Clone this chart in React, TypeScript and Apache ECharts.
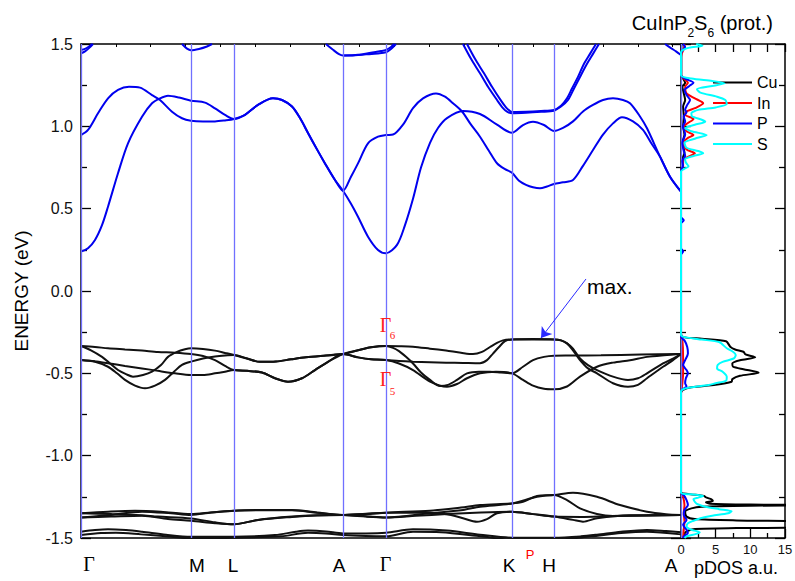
import { useEffect, useRef } from 'react';
import * as echarts from 'echarts';

// ---------- k-path (arbitrary path-length units) ----------
const kPoints = [0, 110, 153, 262, 305, 431, 473, 600];
const kLabels = ['Γ', 'M', 'L', 'A', 'Γ', 'K', 'H', 'A'];
const energyRange = [-1.5, 1.5];
const energyStep = 0.5;
const dosRange = [0, 15];
const dosStep = 5;
const dosNames = ['Cu', 'In', 'P', 'S'];

// ---------- conduction bands [k, E] ----------
const cbLA = [[164, 1.07], [177, 1.13], [192, 1.17], [201, 1.16], [211, 1.12], [219, 1.05], [227, 0.96], [236, 0.86], [244, 0.775], [254, 0.674], [262, 0.609]];
const cbA = [
  [0, 0.239], [7, 0.26], [14, 0.31], [21, 0.4], [27, 0.512], [37, 0.715], [47, 0.897], [61, 1.058], [71, 1.14], [79, 1.17], [87, 1.186], [98, 1.175], [110, 1.156],
  [124, 1.144], [134, 1.109], [144, 1.069], [153, 1.045], ...cbLA,
  [270, 0.53], [277, 0.451], [287, 0.33], [297, 0.249], [305, 0.229],
  [316, 0.28], [324, 0.4], [332, 0.56], [340, 0.75], [349, 0.9], [357, 0.99], [366, 1.05], [382, 1.093], [399, 1.075], [416, 1.01], [431, 0.961],
  [442, 1.008], [452, 1.028], [463, 1.008], [473, 0.972],
  [482, 0.99], [492, 1.03], [502, 1.09], [512, 1.13], [522, 1.16], [532, 1.17], [542, 1.16], [549, 1.14], [559, 1.06], [566, 0.988], [579, 0.816], [589, 0.694], [600, 0.603],
];
const cbB = [
  [0, 0.947], [7, 0.978], [17, 1.079], [27, 1.17], [37, 1.221], [48, 1.24], [59, 1.235], [71, 1.19], [79, 1.16], [91, 1.089], [101, 1.049], [110, 1.034],
  [122, 1.03], [134, 1.03], [144, 1.036], [153, 1.045], ...cbLA,
  [270, 0.694], [277, 0.775], [287, 0.897], [297, 0.937], [305, 0.947],
  [312, 0.95], [322, 1.01], [332, 1.11], [342, 1.17], [355, 1.2], [364, 1.18], [372, 1.14], [381, 1.09], [390, 1.01], [399, 0.937], [408, 0.85], [416, 0.776], [424, 0.74], [431, 0.718],
  [438, 0.67], [445, 0.645], [452, 0.63], [459, 0.624], [466, 0.635], [473, 0.65],
  [482, 0.66], [492, 0.674], [502, 0.76], [512, 0.856], [522, 0.95], [532, 1.018], [541, 1.055], [552, 1.03], [562, 0.978], [570, 0.9], [579, 0.816], [589, 0.694], [600, 0.603],
];
const ub1 = [[0, 1.443], [4, 1.455], [8, 1.475], [12, 1.5]];
const ub2 = [[0, 1.463], [4, 1.47], [8, 1.485], [11, 1.5]];
const ub3 = [[101, 1.5], [106, 1.472], [110, 1.462], [118, 1.47], [126, 1.485], [131, 1.5]];
const ub4 = [[245, 1.5], [252, 1.465], [258, 1.438], [262, 1.43], [270, 1.43], [285, 1.437], [297, 1.443], [305, 1.45], [310, 1.47], [315, 1.5]];
const ub5 = [[262, 1.43], [277, 1.434], [290, 1.447], [300, 1.457], [305, 1.464], [310, 1.482], [313, 1.5]];
const ub6 = [[382, 1.5], [390, 1.41], [399, 1.322], [407, 1.24], [416, 1.16], [422, 1.11], [426, 1.089], [431, 1.079], [445, 1.082], [460, 1.088], [473, 1.095], [480, 1.12], [487, 1.16], [493, 1.23], [499, 1.3], [506, 1.38], [512, 1.44], [518, 1.5]];
const ub7 = [[386, 1.5], [394, 1.41], [403, 1.322], [411, 1.24], [419, 1.165], [425, 1.115], [429, 1.093], [431, 1.087], [445, 1.088], [460, 1.093], [473, 1.1], [480, 1.125], [486, 1.17], [491, 1.23], [497, 1.3], [503, 1.38], [509, 1.44], [515, 1.5]];
const ub8 = [[584, 1.5], [590, 1.475], [595, 1.455], [600, 1.433]];

// ---------- valence bands [k, E] ----------
const laUpper = [[166, -0.41], [179, -0.43], [195, -0.428], [210, -0.415], [225, -0.403], [245, -0.392], [262, -0.383]];
const laLower = [[166, -0.485], [181, -0.495], [194, -0.53], [207, -0.551], [221, -0.53], [234, -0.48], [247, -0.43], [262, -0.383]];
const agUpper = [[277, -0.36], [290, -0.342], [305, -0.334]];
const agLower = [[277, -0.403], [290, -0.415], [305, -0.419]];
const vb1 = [
  [0, -0.334], [14, -0.34], [27, -0.348], [44, -0.355], [61, -0.362], [77, -0.37], [94, -0.375], [110, -0.383],
  [122, -0.395], [134, -0.42], [144, -0.455], [153, -0.48], ...laLower, ...agLower,
  [318, -0.44], [332, -0.48], [349, -0.55], [366, -0.581], [376, -0.565], [386, -0.53], [399, -0.5], [415, -0.49], [431, -0.5],
  [442, -0.54], [452, -0.575], [463, -0.594], [473, -0.597],
  [486, -0.58], [499, -0.52], [516, -0.46], [532, -0.435], [549, -0.42], [566, -0.4], [583, -0.39], [600, -0.383],
];
const vb2 = [
  [0, -0.334], [10, -0.36], [21, -0.4], [29, -0.44], [37, -0.48], [45, -0.505], [52, -0.52], [62, -0.51], [71, -0.49], [80, -0.45], [87, -0.4], [96, -0.37], [104, -0.354], [110, -0.348],
  [122, -0.352], [134, -0.362], [144, -0.376], [153, -0.389], ...laUpper, ...agUpper,
  [318, -0.335], [332, -0.338], [349, -0.35], [365, -0.362], [380, -0.375], [392, -0.383], [401, -0.37], [409, -0.34], [416, -0.315], [422, -0.3], [431, -0.294],
  [452, -0.292], [473, -0.294],
  [480, -0.3], [486, -0.318], [492, -0.35], [499, -0.41], [507, -0.45], [516, -0.48], [532, -0.52], [547, -0.54], [557, -0.53], [566, -0.5], [582, -0.44], [592, -0.41], [600, -0.383],
];
const vb3 = [
  [0, -0.419], [14, -0.43], [27, -0.46], [36, -0.5], [44, -0.54], [54, -0.575], [64, -0.591], [74, -0.575], [84, -0.54], [93, -0.49], [101, -0.449], [110, -0.429],
  [122, -0.41], [134, -0.398], [144, -0.392], [153, -0.389], ...laUpper, ...agLower,
  [318, -0.425], [332, -0.429], [349, -0.432], [365, -0.435], [382, -0.437], [399, -0.439], [406, -0.42], [412, -0.38], [418, -0.34], [424, -0.305], [431, -0.294],
  [452, -0.294], [473, -0.294],
  [480, -0.3], [486, -0.318], [492, -0.36], [499, -0.42], [507, -0.47], [516, -0.5], [532, -0.56], [547, -0.581], [557, -0.57], [566, -0.53], [582, -0.46], [592, -0.42], [600, -0.383],
];
const vb4 = [
  [0, -0.419], [14, -0.427], [27, -0.439], [44, -0.455], [61, -0.47], [77, -0.485], [94, -0.5], [110, -0.51],
  [122, -0.51], [134, -0.5], [144, -0.49], [153, -0.48], ...laLower, ...agUpper,
  [312, -0.345], [318, -0.365], [325, -0.4], [332, -0.44], [340, -0.495], [349, -0.54], [359, -0.577], [367, -0.57], [376, -0.54], [386, -0.5], [398, -0.49], [409, -0.49], [420, -0.495], [431, -0.5],
  [442, -0.46], [452, -0.42], [463, -0.4], [473, -0.393],
  [490, -0.392], [520, -0.39], [560, -0.386], [600, -0.383],
];
const lb1 = [[0, -1.35], [27, -1.34], [54, -1.334], [80, -1.34], [110, -1.354], [130, -1.345], [153, -1.334], [180, -1.33], [211, -1.33], [236, -1.345], [262, -1.36], [285, -1.355], [305, -1.346], [349, -1.334], [380, -1.315], [399, -1.3], [431, -1.29], [442, -1.28], [456, -1.245], [473, -1.239], [492, -1.225], [516, -1.25], [539, -1.3], [566, -1.34], [585, -1.355], [600, -1.36]];
const lb2 = [[0, -1.375], [30, -1.36], [61, -1.34], [90, -1.35], [110, -1.36], [130, -1.345], [153, -1.334], [180, -1.332], [211, -1.332], [236, -1.347], [262, -1.36], [285, -1.37], [305, -1.375], [349, -1.35], [382, -1.33], [399, -1.31], [431, -1.29], [456, -1.25], [473, -1.239], [486, -1.27], [499, -1.32], [516, -1.354], [532, -1.366], [566, -1.364], [600, -1.36]];
const lb3 = [[0, -1.35], [30, -1.355], [60, -1.362], [77, -1.37], [110, -1.381], [134, -1.405], [153, -1.417], [177, -1.39], [211, -1.37], [236, -1.362], [262, -1.36], [285, -1.352], [305, -1.346], [349, -1.346], [370, -1.36], [382, -1.38], [396, -1.401], [406, -1.385], [416, -1.35], [431, -1.34], [452, -1.355], [473, -1.37], [492, -1.39], [502, -1.401], [516, -1.38], [549, -1.362], [600, -1.36]];
const lb4 = [[0, -1.375], [30, -1.37], [61, -1.365], [87, -1.385], [110, -1.395], [134, -1.41], [153, -1.417], [177, -1.39], [211, -1.372], [236, -1.363], [262, -1.36], [285, -1.368], [305, -1.375], [335, -1.365], [366, -1.355], [400, -1.345], [431, -1.34], [452, -1.355], [473, -1.37], [500, -1.372], [530, -1.367], [600, -1.36]];
const lb5 = [[0, -1.462], [14, -1.452], [27, -1.447], [45, -1.452], [61, -1.462], [85, -1.48], [110, -1.492], [153, -1.492], [194, -1.482], [215, -1.462], [227, -1.455], [245, -1.46], [262, -1.472], [285, -1.472], [305, -1.468], [332, -1.447], [366, -1.455], [399, -1.48], [431, -1.498], [473, -1.498], [500, -1.49], [516, -1.48], [540, -1.462], [566, -1.451], [585, -1.458], [600, -1.465]];
const lb6 = [[0, -1.482], [20, -1.47], [35, -1.468], [60, -1.478], [85, -1.49], [110, -1.502], [153, -1.498], [200, -1.49], [227, -1.468], [245, -1.472], [262, -1.482], [285, -1.488], [305, -1.49], [332, -1.462], [360, -1.465], [400, -1.49], [431, -1.51], [473, -1.51], [510, -1.49], [540, -1.47], [566, -1.462], [600, -1.478]];

// ---------- partial DOS [E, value] ----------
const dosCu = [
  [1.5, 0.05], [1.31, 0.05], [1.29, 0.3], [1.265, 0.6], [1.24, 0.2], [1.2, 0.4], [1.16, 0.6], [1.12, 0.3], [1.06, 0.4], [1.0, 0.3], [0.95, 0.5], [0.9, 0.2], [0.84, 0.5], [0.8, 0.2], [0.76, 0.2], [0.73, 0],
  [-0.26, 0], [-0.28, 0.3], [-0.29, 3], [-0.305, 6.5], [-0.338, 7.1], [-0.355, 7.8], [-0.369, 9.0], [-0.385, 9.3], [-0.403, 10.7], [-0.42, 8.5], [-0.44, 7.4], [-0.459, 7.5], [-0.475, 9], [-0.496, 11.2], [-0.515, 8.5], [-0.535, 7.4], [-0.551, 7.3], [-0.57, 5], [-0.585, 1.5], [-0.6, 0.3], [-0.62, 0],
  [-1.22, 0], [-1.232, 1], [-1.245, 3.3], [-1.255, 3.7], [-1.265, 4.4], [-1.275, 4.6], [-1.283, 3.6], [-1.292, 4.2], [-1.297, 10], [-1.3, 22], [-1.304, 10], [-1.31, 3], [-1.32, 1.5], [-1.34, 0.6], [-1.37, 0.8], [-1.385, 2], [-1.393, 8], [-1.4, 20], [-1.42, 26], [-1.435, 20], [-1.44, 8], [-1.445, 2], [-1.46, 0.8], [-1.48, 0.5], [-1.5, 0.6],
];
const dosIn = [
  [1.5, 0.5], [1.47, 0.4], [1.44, 0.1], [1.42, 0], [1.31, 0], [1.29, 0.4], [1.265, 1.0], [1.24, 0.6], [1.2, 0.8], [1.17, 2.0], [1.14, 3.2], [1.11, 2.0], [1.09, 0.8], [1.07, 0.6], [1.045, 1.8], [1.02, 1.0], [1.0, 0.4], [0.97, 0.8], [0.947, 1.8], [0.93, 1.0], [0.9, 0.3], [0.86, 0.8], [0.836, 2.0], [0.815, 1.0], [0.79, 0.3], [0.76, 0.3], [0.73, 0],
  [-0.28, 0], [-0.3, 0.2], [-0.4, 0.3], [-0.5, 0.3], [-0.6, 0.1], [-0.62, 0],
  [-1.225, 0], [-1.25, 0.3], [-1.3, 0.5], [-1.35, 0.4], [-1.4, 0.5], [-1.45, 0.4], [-1.5, 0.3],
];
const dosP = [
  [1.5, 0.3], [1.48, 0.6], [1.46, 0.2], [1.44, 0], [1.31, 0], [1.29, 0.6], [1.265, 1.8], [1.245, 1.2], [1.22, 0.5], [1.19, 0.8], [1.16, 1.3], [1.13, 0.9], [1.1, 0.6], [1.085, 0.8], [1.06, 0.4], [1.03, 0.6], [1.0, 0.3], [0.95, 0.6], [0.9, 0.2], [0.85, 0.4], [0.82, 0.6], [0.79, 0.2], [0.76, 0.3], [0.73, 0],
  [0.45, 0], [0.43, 0.4], [0.41, 0], [0.26, 0], [0.24, 0.3], [0.22, 0],
  [-0.28, 0], [-0.3, 0.5], [-0.34, 0.9], [-0.38, 1.0], [-0.42, 0.6], [-0.45, 0.3], [-0.48, 0.8], [-0.5, 1.0], [-0.53, 0.7], [-0.56, 0.6], [-0.58, 0.8], [-0.6, 0.1], [-0.62, 0],
  [-1.225, 0], [-1.24, 0.4], [-1.27, 0.8], [-1.3, 1.0], [-1.33, 0.5], [-1.36, 0.4], [-1.39, 0.8], [-1.42, 0.3], [-1.45, 0.8], [-1.47, 1.0], [-1.49, 0.4], [-1.5, 0.3],
];
const dosS = [
  [1.5, 2.2], [1.49, 3.1], [1.478, 1.2], [1.465, 0.3], [1.45, 0], [1.31, 0], [1.29, 1.5], [1.275, 4.5], [1.261, 6.3], [1.245, 4.5], [1.225, 2.3], [1.205, 2.8], [1.18, 5.2], [1.16, 6.4], [1.135, 6.6], [1.115, 5.0], [1.1, 2.5], [1.08, 1.5], [1.06, 1.6], [1.04, 3.0], [1.028, 3.5], [1.01, 2.0], [0.99, 0.6], [0.97, 1.5], [0.947, 3.7], [0.925, 2.0], [0.9, 0.5], [0.87, 0.8], [0.85, 2.5], [0.836, 3.2], [0.82, 1.8], [0.8, 0.6], [0.78, 0.7], [0.757, 1.1], [0.74, 0.4], [0.725, 0],
  [-0.265, 0], [-0.28, 0.5], [-0.295, 3], [-0.31, 5.5], [-0.348, 6.6], [-0.369, 7.5], [-0.389, 7.9], [-0.41, 7.6], [-0.43, 6], [-0.449, 5.3], [-0.47, 5.2], [-0.49, 6], [-0.52, 6.6], [-0.545, 6.5], [-0.56, 5], [-0.571, 4], [-0.585, 1.5], [-0.595, 0.4], [-0.61, 0],
  [-1.225, 0], [-1.235, 1.5], [-1.245, 3.2], [-1.255, 2.5], [-1.265, 1.8], [-1.28, 2.0], [-1.295, 2.4], [-1.31, 3.5], [-1.325, 5.5], [-1.338, 7.3], [-1.35, 6.8], [-1.365, 4.5], [-1.38, 2.8], [-1.395, 1.8], [-1.41, 1.0], [-1.43, 0.8], [-1.45, 1.5], [-1.465, 2.7], [-1.475, 2.2], [-1.49, 0.8], [-1.5, 0.5],
];

// annotation anchors [k, E]
const maxArrowFrom = [505, 0.073];
const maxArrowTo = [460, -0.285];

const FONT = '"Liberation Sans", Arial, Helvetica, sans-serif';
const SERIF = '"Liberation Serif", "Times New Roman", Times, serif';

function measure(text: string, size: number, family: string) {
  const ctx = document.createElement('canvas').getContext('2d');
  if (!ctx) return text.length * size * 0.55;
  ctx.font = `${size}px ${family}`;
  return ctx.measureText(text).width;
}

function txt(x: number, y: number, text: string, size: number, family: string, fill: string, align: string) {
  return {
    type: 'text', x, y, silent: true, z: 100,
    style: { text, fontSize: size, fontFamily: family, fill, align, verticalAlign: 'middle', textAlign: align, textVerticalAlign: 'middle' },
  };
}

export default function App() {
  const ref = useRef<HTMLDivElement>(null);
  useEffect(() => {
    document.body.style.margin = '0';
    const el = ref.current;
    if (!el) return;
    const chart = echarts.init(el, null, { renderer: 'svg' });

    const axisBlack = { color: '#000', width: 1.5 };
    const tickBlack = { color: '#000', width: 1.3 };

    const band = (name: string, data: number[][], color: string) => ({
      type: 'line', name, data, xAxisIndex: 0, yAxisIndex: 0, smooth: 0.3, symbol: 'none', showSymbol: false,
      lineStyle: { color, width: 2 }, itemStyle: { color }, silent: true, z: 3, clip: true,
    });
    const CB = '#0000ee';
    const VB = '#111111';
    const dosColors = ['#000000', '#ff0000', '#0000ff', '#00ffff'];
    const dosData = [dosCu, dosIn, dosP, dosS];

    const series: any[] = [
      {
        type: 'line', name: 'kpath', data: [], xAxisIndex: 0, yAxisIndex: 0, z: 1, silent: true,
        markLine: {
          silent: true, symbol: ['none', 'none'], animation: false, label: { show: false },
          lineStyle: { color: '#7070ff', width: 1.3, type: 'solid' },
          data: kPoints.map((k) => ({ xAxis: k })),
        },
      },
      band('cbA', cbA, CB), band('cbB', cbB, CB),
      band('ub1', ub1, CB), band('ub2', ub2, CB), band('ub3', ub3, CB), band('ub4', ub4, CB),
      band('ub5', ub5, CB), band('ub6', ub6, CB), band('ub7', ub7, CB), band('ub8', ub8, CB),
      band('vb1', vb1, VB), band('vb2', vb2, VB), band('vb3', vb3, VB), band('vb4', vb4, VB),
      band('lb1', lb1, VB), band('lb2', lb2, VB), band('lb3', lb3, VB), band('lb4', lb4, VB), band('lb5', lb5, VB), band('lb6', lb6, VB),
      {
        type: 'line', name: 'maxArrow', data: [], xAxisIndex: 0, yAxisIndex: 0, z: 5, silent: true,
        markLine: {
          silent: true, animation: false, symbol: ['none', 'arrow'], symbolSize: 10, label: { show: false },
          lineStyle: { color: '#2a2aff', width: 1, type: 'solid' },
          data: [[{ coord: maxArrowFrom }, { coord: maxArrowTo }]],
        },
      },
      ...dosNames.map((n, i) => ({
        type: 'line', name: n, data: dosData[i].map((p) => [p[1], p[0]]), xAxisIndex: 2, yAxisIndex: 1,
        smooth: 0.25, symbol: 'none', showSymbol: false, clip: true, silent: true, z: 3 + i,
        lineStyle: { color: dosColors[i], width: 2 }, itemStyle: { color: dosColors[i] },
      })),
    ];

    const option: any = {
      animation: false,
      backgroundColor: '#fff',
      textStyle: { fontFamily: FONT },
      grid: [
        { left: 81, top: 44, width: 600, height: 494, outerBoundsMode: 'none', containLabel: false },
        { left: 681, top: 44, width: 104, height: 494, outerBoundsMode: 'none', containLabel: false },
      ],
      legend: {
        data: dosNames, orient: 'vertical', left: 713, top: 74.5, padding: 0, itemWidth: 39, itemHeight: 2, itemGap: 4.5,
        icon: 'rect', selectedMode: false,
        textStyle: { fontSize: 16, color: '#000', fontFamily: FONT, lineHeight: 16 },
      },
      xAxis: [
        { gridIndex: 0, type: 'value', min: 0, max: 600, position: 'bottom', axisLine: { onZero: false, lineStyle: axisBlack }, axisTick: { show: false }, axisLabel: { show: false }, splitLine: { show: false } },
        { gridIndex: 0, type: 'value', min: 0, max: 600, interval: 34.8, position: 'top', axisLine: { onZero: false, lineStyle: axisBlack }, axisTick: { show: true, inside: true, length: 3, lineStyle: { color: '#000', width: 1 } }, axisLabel: { show: false }, splitLine: { show: false } },
        {
          gridIndex: 1, type: 'value', min: dosRange[0], max: dosRange[1], interval: dosStep, position: 'bottom',
          axisLine: { onZero: false, lineStyle: axisBlack }, axisTick: { show: true, inside: true, length: 9, lineStyle: tickBlack },
          minorTick: { show: true, splitNumber: 2, length: 5, lineStyle: tickBlack },
          axisLabel: { fontSize: 13, color: '#111', margin: 5, fontFamily: FONT }, splitLine: { show: false }, minorSplitLine: { show: false },
        },
        {
          gridIndex: 1, type: 'value', min: dosRange[0], max: dosRange[1], interval: dosStep, position: 'top',
          axisLine: { onZero: false, lineStyle: axisBlack }, axisTick: { show: true, inside: true, length: 8, lineStyle: tickBlack },
          minorTick: { show: true, splitNumber: 2, length: 8, lineStyle: tickBlack }, axisLabel: { show: false }, splitLine: { show: false },
        },
      ],
      yAxis: [
        {
          gridIndex: 0, type: 'value', min: energyRange[0], max: energyRange[1], interval: energyStep, position: 'left',
          name: 'ENERGY (eV)', nameLocation: 'middle', nameGap: 50, nameTextStyle: { fontSize: 19, color: '#000', fontFamily: FONT },
          axisLine: { onZero: false, lineStyle: axisBlack }, axisTick: { show: true, inside: true, length: 10, lineStyle: tickBlack },
          minorTick: { show: true, splitNumber: 2, length: 6, lineStyle: tickBlack },
          axisLabel: { fontSize: 16, color: '#111', margin: 8, fontFamily: FONT, formatter: (v: number) => (Math.abs(v) < 1e-9 ? '0.0' : v.toFixed(1)) },
          splitLine: { show: false }, minorSplitLine: { show: false },
        },
        {
          gridIndex: 1, type: 'value', min: energyRange[0], max: energyRange[1], interval: energyStep, position: 'left',
          axisLine: { onZero: false, lineStyle: axisBlack }, axisTick: { show: true, inside: true, length: 10, lineStyle: tickBlack },
          minorTick: { show: true, splitNumber: 2, length: 5, lineStyle: tickBlack }, axisLabel: { show: false }, splitLine: { show: false },
        },
        {
          gridIndex: 1, type: 'value', min: energyRange[0], max: energyRange[1], interval: energyStep, position: 'right',
          axisLine: { onZero: false, lineStyle: axisBlack }, axisTick: { show: true, inside: true, length: 10, lineStyle: tickBlack },
          minorTick: { show: true, splitNumber: 2, length: 6, lineStyle: tickBlack }, axisLabel: { show: false }, splitLine: { show: false },
        },
        {
          gridIndex: 1, type: 'value', min: energyRange[0], max: energyRange[1], interval: energyStep, position: 'left',
          axisLine: { show: false, onZero: false }, axisTick: { show: true, inside: false, length: 10, lineStyle: tickBlack },
          minorTick: { show: true, splitNumber: 2, length: 5, lineStyle: tickBlack }, axisLabel: { show: false }, splitLine: { show: false },
        },
      ],
      series,
    };
    chart.setOption(option);

    const px = (k: number, e: number) => chart.convertToPixel({ gridIndex: 0 }, [k, e]) as number[];
    const labelDx = [8, 6, -1, -4, -0.5, -3, -5, -10];
    const g: any[] = [];
    kLabels.forEach((lab, i) => {
      const [x] = px(kPoints[i], 0);
      const isG = lab === 'Γ';
      g.push(txt(x + labelDx[i], isG ? 564 : 565, lab, isG ? 20 : 19, isG ? SERIF : FONT, '#000', 'center'));
    });
    // P point between K and H
    g.push(txt(530, 554.5, 'P', 13, FONT, '#ff0000', 'center'));
    // Gamma6 / Gamma5 labels
    const [xg] = px(kPoints[4], 0);
    g.push(txt(xg - 0.5, 325, 'Γ', 20, SERIF, '#ff2020', 'center'));
    g.push(txt(xg + 6.5, 335, '6', 11, SERIF, '#ff2020', 'center'));
    g.push(txt(xg - 0.5, 378.5, 'Γ', 20, SERIF, '#ff2020', 'center'));
    g.push(txt(xg + 6.5, 391, '5', 11, SERIF, '#ff2020', 'center'));
    // max. label
    const [mx] = px(maxArrowFrom[0], maxArrowFrom[1]);
    g.push(txt(mx + 1, 286, 'max.', 21, FONT, '#000', 'left'));
    // pDOS axis name
    g.push(txt(736, 568, 'pDOS a.u.', 18, FONT, '#000', 'center'));
    // Title with subscripts
    const pieces = [
      { t: 'CuInP', sub: false }, { t: '2', sub: true }, { t: 'S', sub: false }, { t: '6', sub: true }, { t: ' (prot.)', sub: false },
    ];
    const mainSize = 20;
    const subSize = 12;
    const widths = pieces.map((p) => measure(p.t, p.sub ? subSize : mainSize, '"Liberation Sans"'));
    const total = widths.reduce((a, b) => a + b, 0);
    let cx = 773 - total;
    pieces.forEach((p, i) => {
      g.push(txt(cx, p.sub ? 33.1 : 22.5, p.t, p.sub ? subSize : mainSize, FONT, '#000', 'left'));
      cx += widths[i];
    });
    chart.setOption({ graphic: g });

    return () => chart.dispose();
  }, []);
  return <div ref={ref} style={{ width: 795, height: 581 }} />;
}
